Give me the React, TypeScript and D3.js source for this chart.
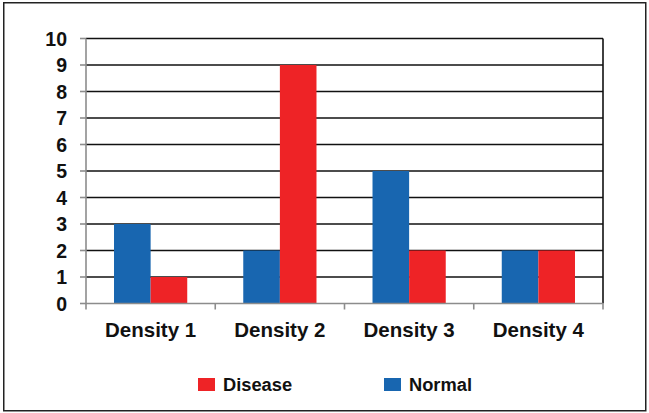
import * as d3 from "d3";
import React from "react";

const categories = ["Density 1", "Density 2", "Density 3", "Density 4"];
const seriesNames = ["Normal", "Disease"];
const normalValues = [3, 2, 5, 2];
const diseaseValues = [1, 9, 2, 2];
const yTickValues = [0, 1, 2, 3, 4, 5, 6, 7, 8, 9, 10];
const legendOrder = ["Disease", "Normal"];

const colors: Record<string, string> = { Normal: "#1866B0", Disease: "#EE2326" };

export default function App() {
  const width = 649;
  const height = 413;
  const marginLeft = 86;
  const marginRight = 46;
  const marginTop = 38.5;
  const plotBottom = 303.5;

  const x = d3.scaleBand(categories, [marginLeft, width - marginRight]).paddingInner(0).paddingOuter(0);
  const inner = d3
    .scaleBand(seriesNames, [0, x.bandwidth()])
    .paddingOuter(28 / 36.6)
    .paddingInner(0);
  const y = d3.scaleLinear([0, 10], [plotBottom, marginTop]);

  const seriesValues: Record<string, number[]> = { Normal: normalValues, Disease: diseaseValues };
  const font = "'Liberation Sans', Arial, sans-serif";

  return (
    <svg
      width={width}
      height={height}
      style={{ position: "absolute", left: 0, top: 0 }}
      fontFamily={font}
    >
      <rect x={0} y={0} width={width} height={height} fill="#fff" />
      <rect x={3.75} y={2.75} width={642} height={408} fill="none" stroke="#222" strokeWidth={1.5} />

      {/* gridlines */}
      {yTickValues.slice(1).map((v) => (
        <line key={v} x1={marginLeft} x2={width - marginRight} y1={y(v)} y2={y(v)} stroke="#111" strokeWidth={1.6} />
      ))}
      {/* right plot border */}
      <line x1={width - marginRight} x2={width - marginRight} y1={marginTop} y2={plotBottom} stroke="#111" strokeWidth={1.6} />

      {/* bars */}
      {categories.map((c, i) => (
        <g key={c} transform={`translate(${x(c)},0)`}>
          {seriesNames.map((s) => {
            const v = seriesValues[s][i];
            return (
              <rect
                key={s}
                x={inner(s)}
                y={y(v)}
                width={inner.bandwidth()}
                height={y(0) - y(v)}
                fill={colors[s]}
              />
            );
          })}
        </g>
      ))}

      {/* y axis */}
      <g>
        <line x1={marginLeft} x2={marginLeft} y1={marginTop} y2={plotBottom} stroke="#8c8c8c" strokeWidth={1.6} />
        {yTickValues.map((v) => (
          <g key={v} transform={`translate(0,${y(v)})`}>
            <line x1={marginLeft - 6} x2={marginLeft} stroke="#8c8c8c" strokeWidth={1.6} />
            <text x={67} dy="0.36em" textAnchor="end" fontSize={19.5} fontWeight="bold" fill="#111">
              {v}
            </text>
          </g>
        ))}
      </g>

      {/* x axis */}
      <g>
        <line x1={marginLeft} x2={width - marginRight} y1={plotBottom} y2={plotBottom} stroke="#8c8c8c" strokeWidth={1.6} />
        {categories.map((c) => (
          <line key={c} x1={x(c)} x2={x(c)} y1={plotBottom} y2={plotBottom + 6} stroke="#8c8c8c" strokeWidth={1.6} />
        ))}
        <line
          x1={width - marginRight}
          x2={width - marginRight}
          y1={plotBottom}
          y2={plotBottom + 6}
          stroke="#8c8c8c"
          strokeWidth={1.6}
        />
        {categories.map((c) => (
          <text
            key={c}
            x={(x(c) ?? 0) + x.bandwidth() / 2}
            y={337}
            textAnchor="middle"
            fontSize={20.5}
            fontWeight="bold"
            fill="#111"
          >
            {c}
          </text>
        ))}
      </g>

      {/* legend */}
      {legendOrder.map((s, i) => {
        const lx = [198, 384][i];
        return (
          <g key={s}>
            <rect x={lx} y={378} width={17} height={13} fill={colors[s]} />
            <text x={lx + 25} y={390.5} fontSize={18.3} fontWeight="bold" fill="#111">
              {s}
            </text>
          </g>
        );
      })}
    </svg>
  );
}
